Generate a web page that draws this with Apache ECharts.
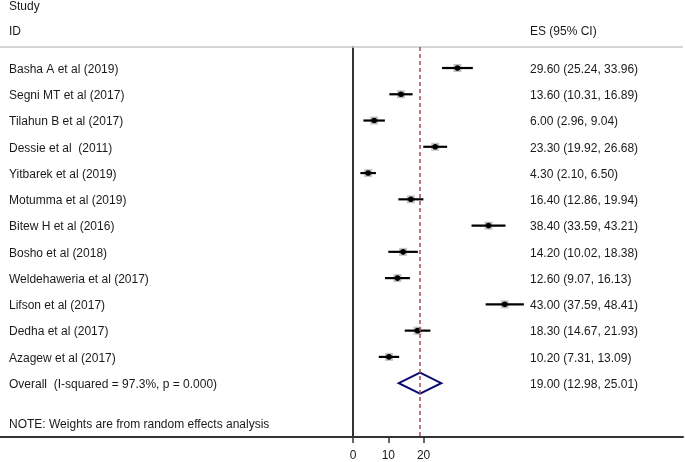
<!DOCTYPE html>
<html><head><meta charset="utf-8">
<script src="https://cdn.jsdelivr.net/npm/echarts@6/dist/echarts.min.js"></script>
<style>html,body{margin:0;padding:0;background:#fff}#c{width:685px;height:462px}</style>
</head><body><div id="c"></div>
<script>
const studies = ['Basha A et al (2019)', 'Segni MT et al (2017)', 'Tilahun B et al (2017)', 'Dessie et al  (2011)',
  'Yitbarek et al (2019)', 'Motumma et al (2019)', 'Bitew H et al (2016)', 'Bosho et al (2018)',
  'Weldehaweria et al (2017)', 'Lifson et al (2017)', 'Dedha et al (2017)', 'Azagew et al (2017)'];
const es = [29.60, 13.60, 6.00, 23.30, 4.30, 16.40, 38.40, 14.20, 12.60, 43.00, 18.30, 10.20];
const lo = [25.24, 10.31, 2.96, 19.92, 2.10, 12.86, 33.59, 10.02, 9.07, 37.59, 14.67, 7.31];
const hi = [33.96, 16.89, 9.04, 26.68, 6.50, 19.94, 43.21, 18.38, 16.13, 48.41, 21.93, 13.09];
const overallLabel = 'Overall  (I-squared = 97.3%, p = 0.000)';
const overallES = 19.00, overallLo = 12.98, overallHi = 25.01;
const tickValues = [0, 10, 20];
const headerStudy = 'Study', headerID = 'ID', headerES = 'ES (95% CI)';
const noteText = 'NOTE: Weights are from random effects analysis';

const FONT = '12px "Liberation Sans", Arial, sans-serif';
const TXT = '#1a1a1a';
const fmt = (a, b, c) => a.toFixed(2) + ' (' + b.toFixed(2) + ', ' + c.toFixed(2) + ')';

const chart = echarts.init(document.getElementById('c'), null, {renderer: 'canvas'});

const rows = studies.map((s, i) => [es[i], lo[i], hi[i], i]);
rows.push([overallES, overallLo, overallHi, studies.length]);

function renderItem(params, api) {
  const i = api.value(3);
  const p = api.coord([api.value(0), i]);
  const l = api.coord([api.value(1), i]);
  const h = api.coord([api.value(2), i]);
  const isOverall = i === studies.length;
  const name = isOverall ? overallLabel : studies[i];
  const children = [];
  if (isOverall) {
    children.push({type: 'polygon', shape: {points: [[l[0], p[1]], [p[0], p[1] - 10.5], [h[0], p[1]], [p[0], p[1] + 10.5]]},
      style: {fill: 'none', stroke: '#0c0c70', lineWidth: 2}});
  } else {
    children.push({type: 'rect', shape: {x: p[0] - 4, y: p[1] - 4, width: 8, height: 8}, style: {fill: '#c4c4c4'}});
    children.push({type: 'line', shape: {x1: l[0], y1: p[1], x2: h[0], y2: p[1]}, style: {stroke: '#000', lineWidth: 2.2}});
    children.push({type: 'circle', shape: {cx: p[0], cy: p[1], r: 2.8}, style: {fill: '#000'}});
  }
  children.push({type: 'text', style: {text: name, x: 9, y: p[1] + 1.5, fill: TXT, font: FONT, align: 'left', verticalAlign: 'middle'}});
  children.push({type: 'text', style: {text: fmt(api.value(0), api.value(1), api.value(2)), x: 530, y: p[1] + 1.5, fill: TXT, font: FONT, align: 'left', verticalAlign: 'middle'}});
  return {type: 'group', children};
}

chart.setOption({
  animation: false,
  backgroundColor: '#fff',
  grid: [
    {left: 0, width: 683, top: 47, height: 390},
    {left: 353, width: 70.6, top: 300, height: 137}
  ],
  xAxis: [
    {gridIndex: 0, type: 'value', min: -100, max: 93.5,
      axisLine: {show: true, onZero: false, lineStyle: {color: '#333', width: 2}},
      axisTick: {show: false}, axisLabel: {show: false}, splitLine: {show: false}},
    {gridIndex: 1, type: 'value', min: 0, max: 20, interval: 10,
      axisLine: {show: false, onZero: false},
      axisTick: {show: true, length: 6, lineStyle: {color: '#333', width: 1.5}},
      axisLabel: {show: true, margin: 13, color: TXT, fontSize: 12, fontFamily: '"Liberation Sans", Arial, sans-serif',
        formatter: v => tickValues.includes(v) ? String(v) : ''},
      splitLine: {show: false}}
  ],
  yAxis: [
    {gridIndex: 0, type: 'value', min: -0.8, max: 14.05, inverse: true,
      axisLine: {show: true, onZero: true, lineStyle: {color: '#333', width: 2}},
      axisTick: {show: false}, axisLabel: {show: false}, splitLine: {show: false}},
    {gridIndex: 1, type: 'value', show: false}
  ],
  graphic: [
    {type: 'line', shape: {x1: 0, y1: 47, x2: 683, y2: 47}, style: {stroke: '#c8c8c8', lineWidth: 1.5}, z: 1},
    {type: 'text', style: {text: headerStudy, x: 9, y: 6.5, fill: TXT, font: FONT, align: 'left', verticalAlign: 'middle'}},
    {type: 'text', style: {text: headerID, x: 9, y: 32, fill: TXT, font: FONT, align: 'left', verticalAlign: 'middle'}},
    {type: 'text', style: {text: headerES, x: 530, y: 32, fill: TXT, font: FONT, align: 'left', verticalAlign: 'middle'}},
    {type: 'text', style: {text: noteText, x: 9, y: 425, fill: TXT, font: FONT, align: 'left', verticalAlign: 'middle'}}
  ],
  series: [
    {type: 'custom', xAxisIndex: 0, yAxisIndex: 0, renderItem, data: rows, clip: false,
      encode: {x: [0, 1, 2], y: 3},
      markLine: {silent: true, symbol: 'none', label: {show: false},
        lineStyle: {color: '#a0504f', type: [4, 3], width: 1.5},
        data: [{xAxis: overallES}]}}
  ]
});
</script></body></html>
